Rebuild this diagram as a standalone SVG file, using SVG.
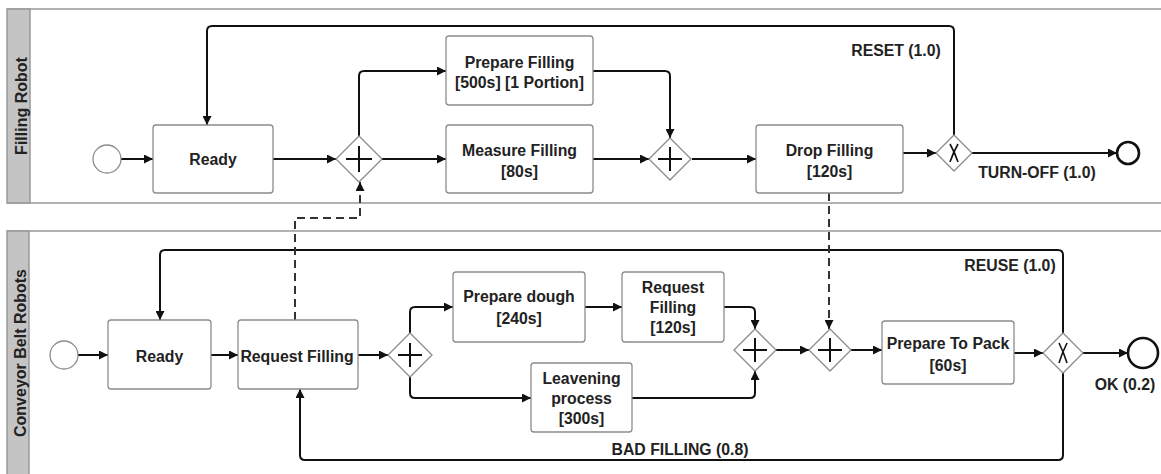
<svg xmlns="http://www.w3.org/2000/svg" width="1161" height="474" viewBox="0 0 1161 474">
<style>
.pool{fill:#fff;stroke:#999;stroke-width:1.5}
.hdr{fill:#c4c4c4;stroke:#999;stroke-width:1.5}
.task{fill:#fff;stroke:#8c8c8c;stroke-width:1.3}
.gw{fill:#fff;stroke:#8c8c8c;stroke-width:1.3}
.mk{fill:none;stroke:#111;stroke-width:2}
.start{fill:#fff;stroke:#8c8c8c;stroke-width:1.3}
.end{fill:#fff;stroke:#111;stroke-width:2.6}
.flow{fill:none;stroke:#111;stroke-width:2;marker-end:url(#arr)}
.msg{fill:none;stroke:#333;stroke-width:2;stroke-dasharray:8,5;marker-end:url(#arr)}
text{font-family:"Liberation Sans",Arial,sans-serif;font-weight:bold;font-size:15.8px;fill:#222;text-anchor:middle}
.hd{font-size:16px}
.lbl{font-size:15.8px}
</style>
<defs>
<marker id="arr" viewBox="0 0 10 10" refX="10" refY="5" markerWidth="10" markerHeight="9" orient="auto" markerUnits="userSpaceOnUse">
<path d="M0,0 L10,5 L0,10 z" fill="#111"/>
</marker>
</defs>

<g id="pool-filling">
<path class="pool" d="M7,9 H1161 M7,203 H1161"/>
<rect class="hdr" x="7" y="9" width="23" height="194"/>
<text class="hd" transform="translate(27,106) rotate(-90)">Filling Robot</text>
</g>
<g id="pool-conveyor">
<path class="pool" d="M7,231 H1161"/>
<rect class="hdr" x="7" y="231" width="22" height="245"/>
<text class="hd" transform="translate(26,353) rotate(-90)">Conveyor Belt Robots</text>
</g>

<g id="connectors">
<path class="flow" d="M121,159 H153"/>
<path class="flow" d="M273,159 H336"/>
<path class="flow" d="M359,136 V76 Q359,71 364,71 H446"/>
<path class="flow" d="M382,159 H446"/>
<path class="flow" d="M593,71 H665 Q670,71 670,76 V138"/>
<path class="flow" d="M593,159 H649"/>
<path class="flow" d="M692,159 H756"/>
<path class="flow" d="M903,153 H936"/>
<path class="flow" d="M972,153 H1117"/>
<path class="flow" d="M954,135 V31 Q954,26 949,26 H212 Q207,26 207,31 V125"/>
<path class="flow" d="M78,355 H108"/>
<path class="flow" d="M211,355 H238"/>
<path class="flow" d="M358,355 H388"/>
<path class="flow" d="M410,333 V312 Q410,307 415,307 H453"/>
<path class="flow" d="M410,377 V393 Q410,398 415,398 H531"/>
<path class="flow" d="M585,307 H622"/>
<path class="flow" d="M724,307 H750 Q755,307 755,312 V329"/>
<path class="flow" d="M632,398 H750 Q755,398 755,393 V371"/>
<path class="flow" d="M776,350 H809"/>
<path class="flow" d="M851,350 H882"/>
<path class="flow" d="M1014,353 H1043"/>
<path class="flow" d="M1083,353 H1128"/>
<path class="flow" d="M1063,333 V255 Q1063,250 1058,250 H165 Q160,250 160,255 V320"/>
<path class="flow" d="M1063,373 V455 Q1063,460 1058,460 H305 Q300,460 300,455 V389"/>
<path class="msg" d="M295,320 V218 H360 V182"/>
<path class="msg" d="M829,193 V329"/>
<text class="lbl" x="896" y="56">RESET (1.0)</text>
<text class="lbl" x="1037" y="178">TURN-OFF (1.0)</text>
<text class="lbl" x="1010" y="271">REUSE (1.0)</text>
<text class="lbl" x="1125" y="390">OK (0.2)</text>
<text class="lbl" x="680" y="455">BAD FILLING (0.8)</text>
</g>

<g id="start1"><circle class="start" cx="107" cy="159" r="14"/></g>
<g id="ready1"><rect class="task" x="153" y="125" width="120" height="68" rx="3"/><text x="213" y="165">Ready</text></g>
<g id="gw1"><path class="gw" d="M359,136 L382,159 L359,182 L336,159 z"/><path class="mk" d="M346,159 H372 M359,146 V172"/></g>
<g id="prepare-filling"><rect class="task" x="446" y="36" width="147" height="69" rx="3"/><text x="519.5" y="68">Prepare Filling</text><text x="519.5" y="88">[500s] [1 Portion]</text></g>
<g id="measure-filling"><rect class="task" x="446" y="125" width="147" height="68" rx="3"/><text x="519.5" y="156">Measure Filling</text><text x="519.5" y="177">[80s]</text></g>
<g id="gw2"><path class="gw" d="M670,138 L691,159 L670,180 L649,159 z"/><path class="mk" d="M658,159 H682 M670,147 V171"/></g>
<g id="drop-filling"><rect class="task" x="756" y="125" width="147" height="68" rx="3"/><text x="829.5" y="156">Drop Filling</text><text x="829.5" y="177">[120s]</text></g>
<g id="xor1"><path class="gw" d="M954,135 L972,153 L954,171 L936,153 z"/><path class="mk" style="stroke-width:1.6" d="M950,144 Q955,153 958,162 M958,144 Q953,153 950,162"/></g>
<g id="end1"><circle class="end" cx="1128" cy="153" r="11"/></g>

<g id="start2"><circle class="start" cx="64" cy="355" r="14"/></g>
<g id="ready2"><rect class="task" x="108" y="320" width="103" height="69" rx="3"/><text x="159.5" y="362">Ready</text></g>
<g id="request-filling"><rect class="task" x="238" y="320" width="120" height="69" rx="3"/><text x="297" y="362">Request Filling</text></g>
<g id="gw3"><path class="gw" d="M410,333 L432,355 L410,377 L388,355 z"/><path class="mk" d="M398,355 H422 M410,343 V367"/></g>
<g id="prepare-dough"><rect class="task" x="453" y="272" width="132" height="70" rx="3"/><text x="519" y="302">Prepare dough</text><text x="519" y="324">[240s]</text></g>
<g id="request-filling-2"><rect class="task" x="622" y="272" width="102" height="70" rx="3"/><text x="673" y="293">Request</text><text x="673" y="313">Filling</text><text x="673" y="333">[120s]</text></g>
<g id="leavening"><rect class="task" x="531" y="363" width="101" height="69" rx="3"/><text x="581.5" y="384">Leavening</text><text x="581.5" y="404">process</text><text x="581.5" y="424">[300s]</text></g>
<g id="gw4"><path class="gw" d="M755,329 L776,350 L755,371 L734,350 z"/><path class="mk" d="M743,350 H767 M755,338 V362"/></g>
<g id="gw5"><path class="gw" d="M830,329 L851,350 L830,371 L809,350 z"/><path class="mk" d="M818,350 H842 M830,338 V362"/></g>
<g id="prepare-to-pack"><rect class="task" x="882" y="321" width="132" height="63" rx="3"/><text x="948" y="349">Prepare To Pack</text><text x="948" y="371">[60s]</text></g>
<g id="xor2"><path class="gw" d="M1063,333 L1083,353 L1063,373 L1043,353 z"/><path class="mk" style="stroke-width:1.6" d="M1059,343 Q1064,353 1067,363 M1067,343 Q1062,353 1059,363"/></g>
<g id="end2"><circle class="end" cx="1143" cy="353" r="15"/></g>
</svg>
